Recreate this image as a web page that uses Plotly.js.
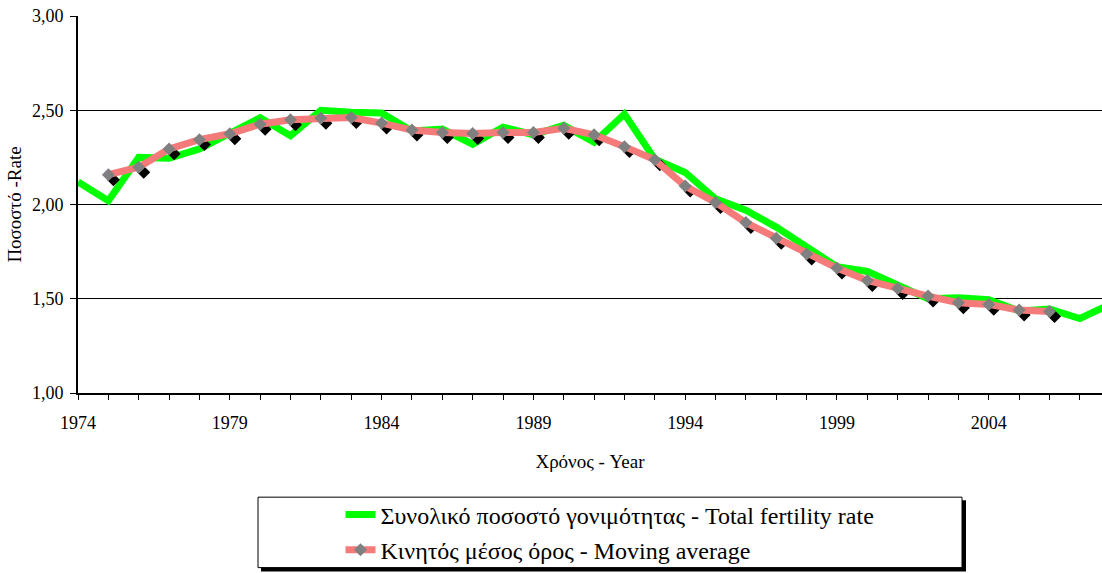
<!DOCTYPE html>
<html>
<head>
<meta charset="utf-8">
<script src="https://cdn.plot.ly/plotly-3.0.1.min.js"></script>
<style>html,body{margin:0;padding:0;background:#fff;}#chart{width:1102px;height:573px;}</style>
</head>
<body>
<div id="chart"></div>
<script>
// ---- data ----
const years = [1974,1975,1976,1977,1978,1979,1980,1981,1982,1983,1984,1985,1986,1987,1988,1989,1990,1991,1992,1993,1994,1995,1996,1997,1998,1999,2000,2001,2002,2003,2004,2005,2006,2007,2008];
const fertilityRate = [2.12,2.02,2.25,2.245,2.295,2.38,2.46,2.365,2.50,2.49,2.485,2.39,2.40,2.32,2.41,2.37,2.42,2.33,2.48,2.24,2.17,2.03,1.97,1.88,1.77,1.67,1.645,1.575,1.50,1.505,1.495,1.435,1.445,1.395,1.47];
const maYears = [1975,1976,1977,1978,1979,1980,1981,1982,1983,1984,1985,1986,1987,1988,1989,1990,1991,1992,1993,1994,1995,1996,1997,1998,1999,2000,2001,2002,2003,2004,2005,2006];
const movingAverage = [2.158,2.198,2.295,2.344,2.375,2.426,2.449,2.458,2.461,2.432,2.395,2.382,2.377,2.382,2.382,2.404,2.37,2.307,2.237,2.098,2.011,1.904,1.821,1.737,1.663,1.597,1.554,1.514,1.479,1.47,1.44,1.432];
const tickYears = [1974,1975,1976,1977,1978,1979,1980,1981,1982,1983,1984,1985,1986,1987,1988,1989,1990,1991,1992,1993,1994,1995,1996,1997,1998,1999,2000,2001,2002,2003,2004,2005,2006,2007];
const labelYears = [1974,1979,1984,1989,1994,1999,2004];
const seriesNames = ['Συνολικό ποσοστό γονιμότητας - Total fertility rate','Κινητός μέσος όρος - Moving average'];
const xTitle = 'Χρόνος - Year';
const yTitle = 'Ποσοστό -Rate';

// ---- layout geometry ----
const W = 1102, H = 573;
const mL = 78, mR = 0, mT = 16, mB = 177;
const pw = W - mL - mR, ph = H - mT - mB;
const xMin = 1974, xMax = 2007.73;
const yMin = 1, yMax = 3;
const kx = pw / (xMax - xMin), ky = ph / (yMax - yMin);
const sh = 5; // shadow offset px

const serif = "'Liberation Serif', 'Times New Roman', serif";

const traces = [
  {
    x: years, y: fertilityRate, type: 'scatter', mode: 'lines',
    name: seriesNames[0], xaxis: 'x', yaxis: 'y',
    line: {color: '#00ff00', width: 7},
    legendgroup: 'a'
  },
  {
    x: maYears, y: movingAverage, type: 'scatter', mode: 'markers',
    xaxis: 'x2', yaxis: 'y2', showlegend: false, hoverinfo: 'skip',
    marker: {symbol: 'diamond', size: 10, color: '#000000'}
  },
  {
    x: maYears, y: movingAverage, type: 'scatter', mode: 'lines+markers',
    name: seriesNames[1], xaxis: 'x3', yaxis: 'y3',
    line: {color: '#f57a7a', width: 7},
    marker: {symbol: 'diamond', size: 10, color: '#808080'},
    legendgroup: 'b'
  }
];

const layout = {
  width: W, height: H,
  margin: {l: mL, r: mR, t: mT, b: mB, pad: 0},
  paper_bgcolor: '#ffffff',
  plot_bgcolor: 'rgba(0,0,0,0)',
  separators: ', ',
  font: {family: serif, color: '#000000', size: 18},
  showlegend: true,
  xaxis: {
    domain: [0, 1], range: [xMin, xMax], anchor: 'y',
    tickmode: 'array', tickvals: tickYears,
    ticktext: tickYears.map(v => labelYears.includes(v) ? String(v) : ''),
    ticks: 'outside', ticklen: 5, tickwidth: 1, tickcolor: '#000',
    ticklabelstandoff: 7,
    showline: true, linecolor: '#000', linewidth: 2,
    showgrid: false, zeroline: false,
    tickfont: {family: serif, size: 18, color: '#000'},
    title: {text: xTitle, font: {family: serif, size: 19, color: '#000'}, standoff: 23}
  },
  yaxis: {
    domain: [0, 1], range: [yMin, yMax], anchor: 'x',
    tickmode: 'linear', tick0: 1, dtick: 0.5, tickformat: '.2f',
    ticks: 'outside', ticklen: 6, tickwidth: 1, tickcolor: '#000',
    ticklabelstandoff: 3,
    showline: true, linecolor: '#000', linewidth: 2,
    showgrid: true, gridcolor: '#000', gridwidth: 1, zeroline: false,
    tickfont: {family: serif, size: 18, color: '#000'},
    title: {text: yTitle, font: {family: serif, size: 19, color: '#000'}, standoff: 5}
  },
  xaxis2: {
    domain: [sh / pw, 1], range: [xMin, xMax - sh / kx], anchor: 'y2', visible: false
  },
  yaxis2: {
    domain: [0, 1 - sh / ph], range: [yMin + sh / ky, yMax], anchor: 'x2', visible: false
  },
  xaxis3: {domain: [0, 1], range: [xMin, xMax], anchor: 'y3', visible: false},
  yaxis3: {domain: [0, 1], range: [yMin, yMax], anchor: 'x3', visible: false},
  legend: {
    x: (610 - mL) / pw, xanchor: 'center',
    y: (mT + ph - 536.5) / ph, yanchor: 'middle',
    bgcolor: 'rgba(0,0,0,0)', borderwidth: 0,
    font: {family: serif, size: 24, color: '#000'},
    traceorder: 'grouped', tracegroupgap: 1
  },
  shapes: [
    {type: 'rect', xref: 'paper', yref: 'paper',
     x0: (261 - mL) / pw, x1: (966 - mL) / pw,
     y0: (mT + ph - 504) / ph, y1: (mT + ph - 576) / ph,
     fillcolor: '#000', line: {width: 0}},
    {type: 'rect', xref: 'paper', yref: 'paper',
     x0: (258 - mL) / pw, x1: (962 - mL) / pw,
     y0: (mT + ph - 501) / ph, y1: (mT + ph - 572) / ph,
     fillcolor: '#fff', line: {color: '#000', width: 1}}
  ]
};

Plotly.newPlot('chart', traces, layout, {displayModeBar: false, staticPlot: true});
</script>
</body>
</html>
